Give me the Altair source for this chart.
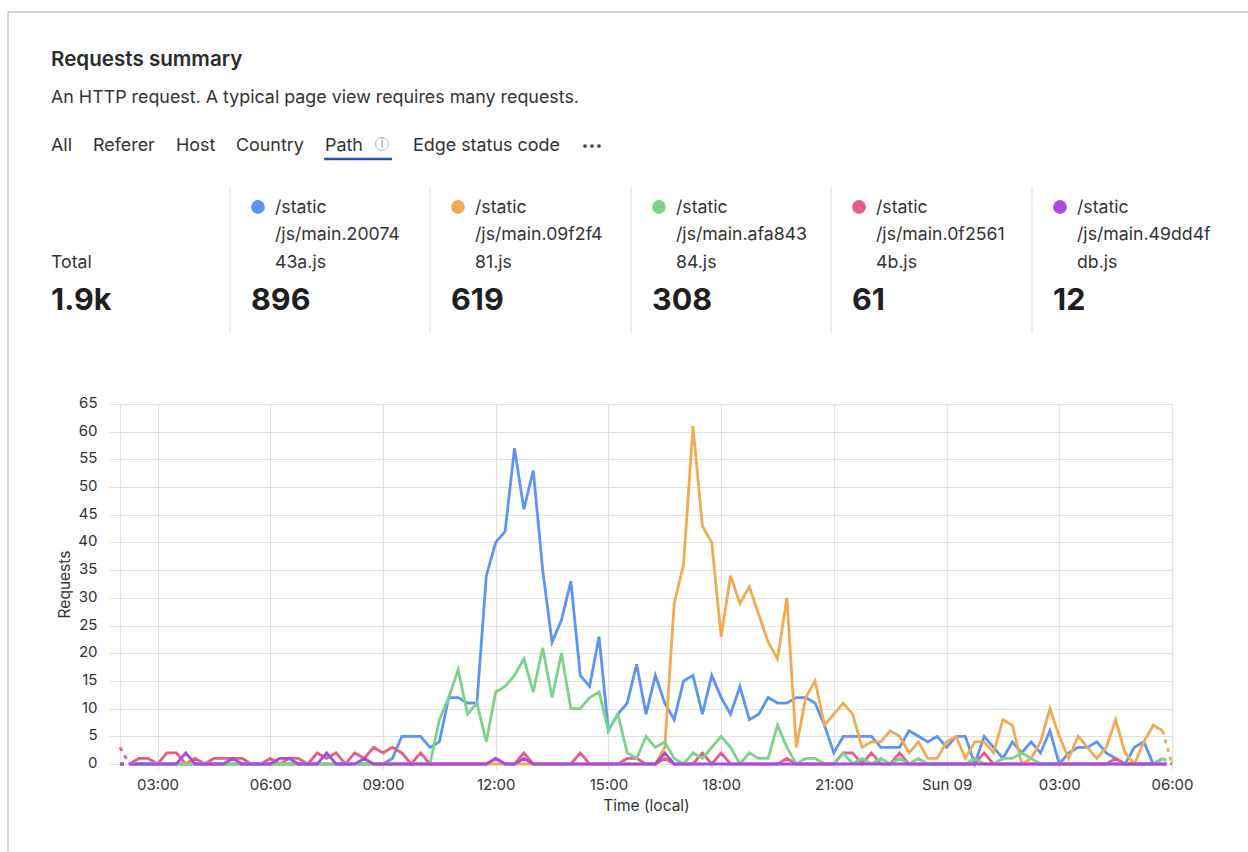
import altair as alt
import pandas as pd

# Requests per 15-minute bucket, Sat 02:00 to Sun 06:00 (113 buckets).
blue = [0]*29 + [1, 5, 5, 5, 3, 4, 12, 12, 11, 11, 34, 40, 42, 57, 46, 53, 35, 22, 26, 33, 16, 14, 23,
                 6, 9, 11, 18, 9, 16, 11, 8, 15, 16, 9, 16, 12, 9, 14, 8, 9, 12, 11, 11, 12, 12, 11, 7,
                 2, 5, 5, 5, 5, 3, 3, 3, 6, 5, 4, 5, 3, 5, 5, 0, 5, 3, 1, 4, 2, 4, 2, 6,
                 0, 2, 3, 3, 4, 2, 1, 0, 3, 4, 0, 1, 0]
orange = [0]*58 + [3, 29, 36, 61, 43, 40, 23, 34, 29, 32, 27, 22, 19, 30, 3, 12, 15, 7,
                   9, 11, 9, 3, 4, 4, 6, 5, 2, 4, 1, 1, 4, 5, 1, 4, 4, 2, 8, 7, 0, 1, 4, 10,
                   5, 1, 5, 3, 1, 3, 8, 2, 0, 4, 7, 6, 0]
green = [0]*34 + [8, 12, 17, 9, 11, 4, 13, 14, 16, 19, 13, 21, 12, 20, 10, 10, 12, 13, 6, 9,
                  2, 1, 5, 3, 4, 1, 0, 2, 1, 3, 5, 3, 0, 2, 1, 1, 7, 3, 0, 1, 1, 0,
                  0, 2, 0, 1, 0, 1, 0, 1, 0, 1, 0, 0, 0, 0, 0, 1, 0, 0, 1, 1, 2, 1, 0, 0,
                  0, 0, 0, 0, 0, 0, 0, 0, 0, 0, 0, 1, 0]
pink = [3, 0, 1, 1, 0, 2, 2, 0, 1, 0, 1, 1, 1, 1, 0, 0, 1, 0, 1, 1, 0, 2, 1, 2, 0, 2, 1, 3, 2, 3, 2, 0, 2, 0,
        0, 0, 0, 0, 0, 0, 1, 0, 0, 2, 0, 0, 0, 0, 0, 2, 0, 0, 0, 0, 1, 1, 0, 0, 1, 0, 0, 0, 2, 0, 2, 0,
        0, 0, 0, 0, 0, 1, 0, 0, 0, 0, 0, 2, 2, 0, 2, 0, 0, 2, 0, 0, 0, 0, 0, 0, 0, 0, 2, 0, 0, 0, 0, 0, 0, 0,
        0, 0, 0, 0, 0, 0, 1, 0, 0, 0, 0, 0, 0]
purple = [0]*7 + [2, 0, 0, 0, 0, 1, 0, 0, 0, 0, 1, 1, 0, 0, 0, 2, 0, 0, 0, 1] + [0]*13 + [1, 0, 0, 1] + [0]*14 + [2] + [0]*54

paths = ["main.2007443a", "main.09f2f481", "main.afa84384", "main.0f25614b", "main.49dd4fdb"]
colors = ["#5b94f5", "#f0ab52", "#7bd28a", "#e65c8a", "#a94bdc"]
card_lines = [["/static", "/js/main.20074", "43a.js"],
              ["/static", "/js/main.09f2f4", "81.js"],
              ["/static", "/js/main.afa843", "84.js"],
              ["/static", "/js/main.0f2561", "4b.js"],
              ["/static", "/js/main.49dd4f", "db.js"]]
card_totals = ["896", "619", "308", "61", "12"]
tabs = ["All", "Referer", "Host", "Country", "Path", "Edge status code"]
y_ticks = list(range(0, 70, 5))

FONT = "Inter"
INK = "#333333"
GRID = "#e0e0e0"
BODY = 17.7
PLOT_LEFT, PLOT_TOP, PLOT_W, PLOT_H = 120, 404, 1052, 360

start = pd.Timestamp("2024-06-08T02:00:00Z")
times = [start + pd.Timedelta(minutes=15*i) for i in range(113)]
ms = lambda t: int(t.timestamp() * 1000)
tick_times = [ms(start + pd.Timedelta(hours=1 + 3*k)) for k in range(10)]
x_domain = [ms(times[0]), ms(times[-1])]

records = []
for name, series in zip(paths, [blue, orange, green, pink, purple]):
    for i, (t, v) in enumerate(zip(times, series)):
        records.append({"time": ms(t), "path": name, "requests": v, "idx": i})
df = pd.DataFrame(records)

x_enc = alt.X("time:T", title="Time (local)",
              scale=alt.Scale(type="utc", domain=x_domain, nice=False),
              axis=alt.Axis(values=tick_times, grid=True, gridColor=GRID, gridWidth=1.2, domain=False,
                            tickColor=GRID, tickSize=5, labelFont=FONT, labelFontSize=15,
                            labelColor=INK, labelPadding=8, labelFlush=False, labelOverlap=False,
                            labelExpr="utcFormat(datum.value,'%H:%M')=='00:00' ? utcFormat(datum.value,'%a %d') : utcFormat(datum.value,'%H:%M')",
                            titleFont=FONT, titleFontSize=15.5, titleColor=INK, titleFontWeight="normal",
                            titlePadding=6))
y_enc = alt.Y("requests:Q", title="Requests",
              scale=alt.Scale(domain=[0, 65], nice=False),
              axis=alt.Axis(values=y_ticks, grid=True, gridColor=GRID, gridWidth=1.2, domain=True, domainColor=GRID,
                            tickColor=GRID, tickSize=11, labelFont=FONT, labelFontSize=15,
                            labelColor=INK, labelPadding=12, labelOverlap=False, labelOffset=-1.5,
                            titleFont=FONT, titleFontSize=15.5, titleColor=INK, titleFontWeight="normal",
                            titlePadding=5))

# The first and last buckets are partial, so those two segments are drawn dashed.
layers = []
for k in [0, 3, 1, 2, 4]:
    sub = df[df.path == paths[k]]
    solid = sub[(sub.idx >= 1) & (sub.idx <= 111)]
    head = sub[sub.idx <= 1]
    tail = sub[sub.idx >= 111]
    layers.append(alt.Chart(solid).mark_line(color=colors[k], strokeWidth=2.8, clip=False).encode(x=x_enc, y=y_enc))
    for part in (head, tail):
        layers.append(alt.Chart(part).mark_line(color=colors[k], strokeWidth=2.8, strokeDash=[4, 5], clip=False)
                      .encode(x=x_enc, y=y_enc))

blank = pd.DataFrame({"_": [0]})


def label(text, px, py, size, weight="normal", color=INK):
    nudge = 2 if size > 25 else 1
    return alt.Chart(blank).mark_text(align="left", baseline="middle", font=FONT, fontSize=size,
                                      fontWeight=weight, color=color, clip=False).encode(
        x=alt.value(px - PLOT_LEFT), y=alt.value(py + nudge - PLOT_TOP), text=alt.value(text))


def hrule(x0, x1, py, color, width):
    return alt.Chart(blank).mark_rule(color=color, strokeWidth=width).encode(
        x=alt.value(x0 - PLOT_LEFT), x2=alt.value(x1 - PLOT_LEFT), y=alt.value(py - PLOT_TOP))


def vrule(px, y0, y1, color, width):
    return alt.Chart(blank).mark_rule(color=color, strokeWidth=width).encode(
        x=alt.value(px - PLOT_LEFT), y=alt.value(y0 - PLOT_TOP), y2=alt.value(y1 - PLOT_TOP))


chrome = [hrule(8, 1248, 12, "#c9c9c9", 1.5), vrule(8, 12, 852, "#c9c9c9", 1.5)]
chrome += [label("Requests summary", 51, 59, 20.6, 600, "#2b2b2b"),
           label("An HTTP request. A typical page view requires many requests.", 51, 97, 17.85)]
for text, px in zip(tabs, [51, 93, 176, 236, 325, 413]):
    chrome.append(label(text, px, 145, 17.9))
chrome.append(hrule(324, 392, 159, "#1f4fc2", 2.5))
chrome.append(alt.Chart(blank).mark_point(size=170, color="#9a9a9a", strokeWidth=1, clip=False).encode(
    x=alt.value(382 - PLOT_LEFT), y=alt.value(144 - PLOT_TOP)))
chrome.append(alt.Chart(blank).mark_text(font=FONT, fontSize=11, color="#8a8a8a", clip=False).encode(
    x=alt.value(382 - PLOT_LEFT), y=alt.value(144 - PLOT_TOP), text=alt.value("i")))
for px in [585, 592, 599]:
    chrome.append(alt.Chart(blank).mark_point(size=14, filled=True, opacity=1, color="#444444", clip=False).encode(
        x=alt.value(px - PLOT_LEFT), y=alt.value(146 - PLOT_TOP)))

chrome += [label("Total", 51, 262, BODY), label("1.9k", 51, 299, 30.5, 700, "#1f1f1f")]
for lines, total, color, rule_x in zip(card_lines, card_totals, colors, [230, 430, 631, 831, 1032]):
    chrome.append(vrule(rule_x, 187, 333, "#dcdcdc", 1))
    chrome.append(alt.Chart(blank).mark_point(size=190, filled=True, opacity=1, color=color, clip=False).encode(
        x=alt.value(rule_x + 28 - PLOT_LEFT), y=alt.value(207 - PLOT_TOP)))
    for line, py in zip(lines, [207, 234, 262]):
        chrome.append(label(line, rule_x + 45, py, BODY))
    chrome.append(label(total, rule_x + 21, 299, 30.5, 700, "#1f1f1f"))

chart = alt.layer(*layers, *chrome).properties(
    width=PLOT_W, height=PLOT_H,
    padding={"left": PLOT_LEFT, "top": PLOT_TOP, "right": 1248 - PLOT_LEFT - PLOT_W, "bottom": 852 - PLOT_TOP - PLOT_H},
    autosize=alt.AutoSizeParams(type="none"),
    background="white",
).configure_view(stroke=None)

chart.save("out.html", embed_options={"renderer": "svg", "actions": False})
